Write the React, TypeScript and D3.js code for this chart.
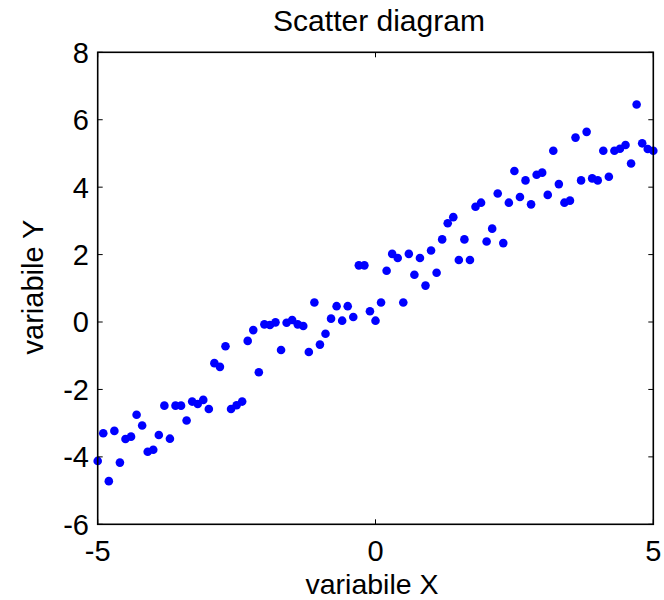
import React, { useEffect, useRef } from "react";
import * as d3 from "d3";

const xValues: number[] = [
  -5.0, -4.9, -4.8, -4.7, -4.6, -4.5, -4.4, -4.3, -4.2, -4.1,
  -4.0, -3.9, -3.8, -3.7, -3.6, -3.5, -3.4, -3.3, -3.2, -3.1,
  -3.0, -2.9, -2.8, -2.7, -2.6, -2.5, -2.4, -2.3, -2.2, -2.1,
  -2.0, -1.9, -1.8, -1.7, -1.6, -1.5, -1.4, -1.3, -1.2, -1.1,
  -1.0, -0.9, -0.8, -0.7, -0.6, -0.5, -0.4, -0.3, -0.2, -0.1,
  0.0, 0.1, 0.2, 0.3, 0.4, 0.5, 0.6, 0.7, 0.8, 0.9,
  1.0, 1.1, 1.2, 1.3, 1.4, 1.5, 1.6, 1.7, 1.8, 1.9,
  2.0, 2.1, 2.2, 2.3, 2.4, 2.5, 2.6, 2.7, 2.8, 2.9,
  3.0, 3.1, 3.2, 3.3, 3.4, 3.5, 3.6, 3.7, 3.8, 3.9,
  4.0, 4.1, 4.2, 4.3, 4.4, 4.5, 4.6, 4.7, 4.8, 4.9,
  5.0,
];

const yValues: number[] = [
  -4.12, -3.30, -4.72, -3.23, -4.17, -3.47, -3.40, -2.75, -3.07, -3.85,
  -3.79, -3.35, -2.48, -3.46, -2.48, -2.48, -2.92, -2.36, -2.43, -2.31,
  -2.58, -1.22, -1.33, -0.72, -2.58, -2.47, -2.36, -0.56, -0.24, -1.49,
  -0.07, -0.09, -0.01, -0.83, -0.02, 0.06, -0.07, -0.12, -0.89, 0.58,
  -0.67, -0.35, 0.10, 0.47, 0.04, 0.47, 0.15, 1.68, 1.68, 0.32,
  0.04, 0.58, 1.52, 2.02, 1.90, 0.58, 2.02, 1.40, 1.90, 1.08,
  2.12, 1.46, 2.45, 2.93, 3.11, 1.84, 2.45, 1.84, 3.42, 3.54,
  2.39, 2.77, 3.81, 2.34, 3.54, 4.48, 3.71, 4.20, 3.49, 4.37,
  4.43, 3.77, 5.08, 4.09, 3.54, 3.60, 5.47, 4.20, 5.64, 4.26,
  4.20, 5.08, 4.31, 5.08, 5.14, 5.25, 4.70, 6.45, 5.30, 5.13,
  5.08,
];

const xTicks: number[] = [-5, 0, 5];
const yTicks: number[] = [-6, -4, -2, 0, 2, 4, 6, 8];

const titleText = "Scatter diagram";
const xLabelText = "variabile X";
const yLabelText = "variabile Y";

const W = 664;
const H = 600;
const FONT = "'Liberation Sans', Arial, Helvetica, sans-serif";

export default function App() {
  const ref = useRef<SVGSVGElement>(null);

  useEffect(() => {
    const svg = d3.select(ref.current);
    svg.selectAll("*").remove();

    const left = 97.7, right = 653.3, top = 52.3, bottom = 524.3;
    const x = d3.scaleLinear().domain([-5, 5]).range([left, right]);
    const y = d3.scaleLinear().domain([-6, 8]).range([bottom, top]);

    svg.append("rect").attr("width", W).attr("height", H).attr("fill", "#fff");

    // points
    const pts = xValues.map((v, i) => ({ x: v, y: yValues[i] }));
    svg.append("g")
      .selectAll("circle")
      .data(pts)
      .enter()
      .append("circle")
      .attr("cx", (d) => x(d.x))
      .attr("cy", (d) => y(d.y))
      .attr("r", 4.3)
      .attr("fill", "#0000ff");

    const tickLen = 5;
    const g = svg.append("g").attr("stroke", "#000").attr("stroke-width", 1);
    xTicks.forEach((t) => {
      g.append("line").attr("x1", x(t)).attr("x2", x(t)).attr("y1", bottom).attr("y2", bottom - tickLen);
      g.append("line").attr("x1", x(t)).attr("x2", x(t)).attr("y1", top).attr("y2", top + tickLen);
    });
    yTicks.forEach((t) => {
      g.append("line").attr("x1", left).attr("x2", left + tickLen).attr("y1", y(t)).attr("y2", y(t));
      g.append("line").attr("x1", right).attr("x2", right - tickLen).attr("y1", y(t)).attr("y2", y(t));
    });

    // box
    svg.append("rect")
      .attr("x", left).attr("y", top)
      .attr("width", right - left).attr("height", bottom - top)
      .attr("fill", "none").attr("stroke", "#000").attr("stroke-width", 1.6);

    // tick labels
    const tl = svg.append("g").attr("font-family", FONT).attr("font-size", 29).attr("fill", "#000");
    xTicks.forEach((t) => {
      tl.append("text").attr("x", x(t)).attr("y", 560.5).attr("text-anchor", "middle").text(String(t));
    });
    yTicks.forEach((t) => {
      tl.append("text").attr("x", 89).attr("y", y(t)).attr("dy", "0.36em").attr("text-anchor", "end").text(String(t));
    });

    // title
    svg.append("text")
      .attr("x", 379).attr("y", 31)
      .attr("text-anchor", "middle")
      .attr("font-family", FONT).attr("font-size", 30)
      .text(titleText);

    // x label
    svg.append("text")
      .attr("x", 372).attr("y", 593.5)
      .attr("text-anchor", "middle")
      .attr("font-family", FONT).attr("font-size", 28.5)
      .text(xLabelText);

    // y label
    svg.append("text")
      .attr("transform", `translate(43, 287) rotate(-90)`)
      .attr("text-anchor", "middle")
      .attr("font-family", FONT).attr("font-size", 29)
      .text(yLabelText);
  }, []);

  return (
    <svg
      ref={ref}
      width={W}
      height={H}
      style={{ position: "absolute", left: 0, top: 0, display: "block" }}
    />
  );
}
